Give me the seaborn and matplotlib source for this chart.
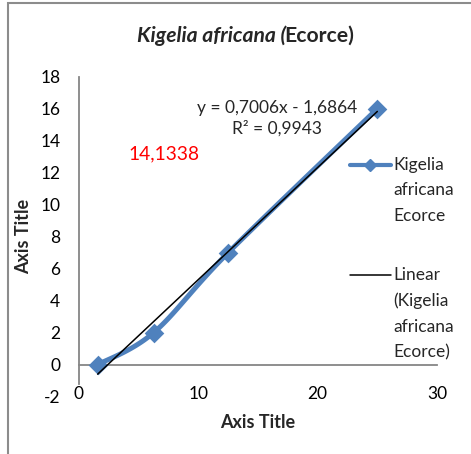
import numpy as np
import pandas as pd
import seaborn as sns
import matplotlib
matplotlib.use("Agg")
import matplotlib.pyplot as plt
from matplotlib.lines import Line2D
from matplotlib.patches import Rectangle
from matplotlib.legend_handler import HandlerLine2D

# ---- data ----
concentration = [1.5625, 6.25, 12.5, 25]
absorbance = [0, 2, 7, 16]
series_label = "Kigelia\nafricana\nEcorce"
trend_label = "Linear\n(Kigelia\nafricana\nEcorce)"
x_ticks = [0, 10, 20, 30]
y_ticks = [-2, 0, 2, 4, 6, 8, 10, 12, 14, 16, 18]
equation_text = "y = 0,7006x - 1,6864\nR² = 0,9943"
value_text = "14,1338"
x_title = "Axis Title"
y_title = "Axis Title"
title_italic = "Kigelia africana ("
title_plain = "Ecorce)"

BLUE = "#4F81BD"
GREY = "#868686"

sns.set_theme(style="white")
plt.rcParams["font.family"] = ["Lato", "DejaVu Sans"]

W, H = 471, 454
fig = plt.figure(figsize=(W / 100, H / 100), dpi=100)
ax = fig.add_axes([79 / W, 1 - 396.7 / H, 358 / W, 320 / H])

df = pd.DataFrame({"x": concentration, "y": absorbance})


def smooth_curve(xs, ys, sx=11.93, sy=16.0, n=40):
    """Excel-like smoothed line (Catmull-Rom Bezier) through the data points."""
    P = np.column_stack([np.asarray(xs, float) * sx, np.asarray(ys, float) * sy])
    ext = np.vstack([P[0], P, P[-1]])
    pts = [P[0]]
    t = np.linspace(0, 1, n)[1:, None]
    for i in range(len(P) - 1):
        p0, p1, p2, p3 = ext[i], ext[i + 1], ext[i + 2], ext[i + 3]
        c1 = p1 + (p2 - p0) / 6
        c2 = p2 - (p3 - p1) / 6
        seg = (1 - t) ** 3 * p1 + 3 * (1 - t) ** 2 * t * c1 + 3 * (1 - t) * t ** 2 * c2 + t ** 3 * p2
        pts.extend(seg)
    pts = np.array(pts)
    return pts[:, 0] / sx, pts[:, 1] / sy


sxs, sys_ = smooth_curve(df["x"], df["y"])
ax.plot(sxs, sys_, color=BLUE, lw=3.6, solid_capstyle="round", zorder=3)
sns.scatterplot(data=df, x="x", y="y", ax=ax, marker="D", s=100, color=BLUE,
                edgecolor=BLUE, linewidth=0, zorder=4, legend=False)

# linear trendline
slope, intercept = np.polyfit(df["x"], df["y"], 1)
tx = np.array([df["x"].min(), df["x"].max()])
ax.plot(tx, slope * tx + intercept, color="black", lw=1.1, zorder=5)

ax.set_xlim(0, 30)
ax.set_ylim(-2, 18)
ax.set_xticks(x_ticks)
ax.set_yticks(y_ticks)
ax.set_xticklabels([str(v) for v in x_ticks])
ax.set_yticklabels([str(v) for v in y_ticks])
ax.tick_params(axis="both", length=0, labelsize=12.5, colors="black")
ax.tick_params(axis="x", pad=15)
ax.tick_params(axis="y", pad=13.5)
for s in ["top", "right"]:
    ax.spines[s].set_visible(False)
ax.spines["left"].set_color(GREY)
ax.spines["left"].set_linewidth(1.3)
ax.spines["left"].set_bounds(-1.2, 18)
ax.spines["bottom"].set_position(("data", 0))
ax.spines["bottom"].set_color(GREY)
ax.spines["bottom"].set_linewidth(1.3)
ax.patch.set_alpha(0)

ax.set_xlabel(x_title, fontsize=13, fontweight="bold")
ax.set_ylabel(y_title, fontsize=13, fontweight="bold")
ax.xaxis.set_label_coords(0.5, -0.055)
ax.yaxis.set_label_coords(-0.131, 0.5)

ax.text(0.553, 0.871, equation_text, transform=ax.transAxes, ha="center", va="center",
        fontsize=12.5, linespacing=1.3, multialignment="center")
ax.text(0.137, 0.758, value_text, transform=ax.transAxes, ha="left", va="center",
        fontsize=13.8, color="red")


class FirstLineHandler(HandlerLine2D):
    """Line handle aligned with the first line of a multi-line label."""

    def __init__(self, shift_pt, **kw):
        super().__init__(**kw)
        self.shift_pt = shift_pt

    def create_artists(self, legend, orig_handle, xdescent, ydescent, width, height,
                       fontsize, trans):
        return super().create_artists(legend, orig_handle, xdescent,
                                      ydescent - 2 * self.shift_pt, width, height,
                                      fontsize, trans)


h_series = Line2D([], [], color=BLUE, lw=3, marker="D", markersize=6)
h_trend = Line2D([], [], color="black", lw=1.1)
leg = ax.legend([h_series, h_trend], [series_label, trend_label], loc="upper left",
                bbox_to_anchor=(0.757, 0.749), frameon=False, fontsize=12.5,
                handlelength=2.35, handletextpad=0.15, borderpad=0, borderaxespad=0,
                labelspacing=2.5,
                handler_map={h_series: FirstLineHandler(18.7),
                             h_trend: FirstLineHandler(28.0)})
for t in leg.get_texts():
    t.set_linespacing(1.72)

# title: italic part + upright part, centred together
ty = 1 - 35.5 / H
t1 = fig.text(0, ty, title_italic, ha="left", va="center", fontsize=15.2,
              fontweight="bold", fontstyle="italic")
t2 = fig.text(0, ty, title_plain, ha="left", va="center", fontsize=15.2,
              fontweight="bold")
fig.canvas.draw()
r = fig.canvas.get_renderer()
w1 = t1.get_window_extent(r).width
w2 = t2.get_window_extent(r).width
x0 = 245.5 - (w1 + w2 - 2) / 2
t1.set_x(x0 / W)
t2.set_x((x0 + w1 - 2) / W)

fig.patches.append(Rectangle((8 / W, -0.2), 1.5, 1.2 - 3.5 / H, transform=fig.transFigure,
                             fill=False, edgecolor="#8c8c8c", lw=1.5, clip_on=False))

fig.savefig("out.png", dpi=100)
